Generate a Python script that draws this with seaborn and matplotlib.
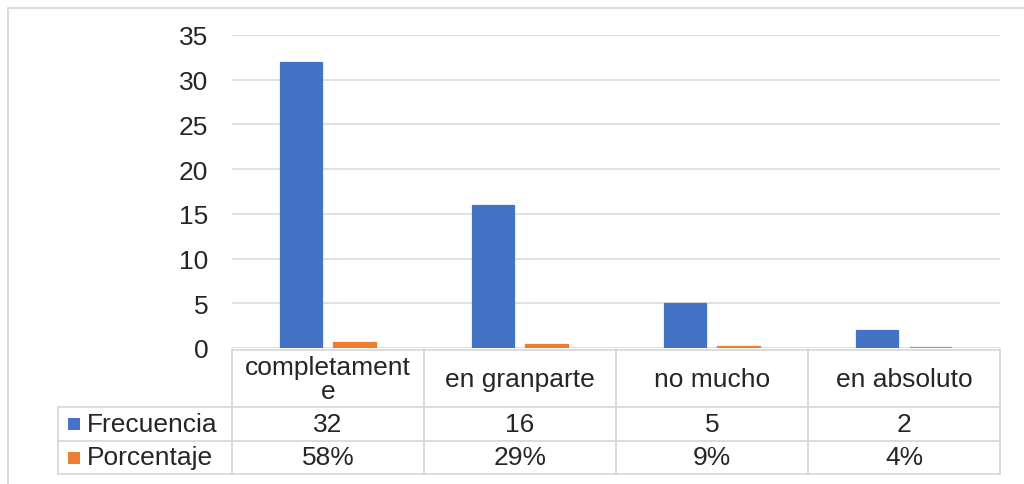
import matplotlib
matplotlib.use("Agg")
import matplotlib.pyplot as plt
import matplotlib.transforms as mtransforms
from matplotlib.lines import Line2D
from matplotlib.patches import Rectangle
import seaborn as sns
import pandas as pd

# Survey answers and their two series
categorias = ["completamente", "en granparte", "no mucho", "en absoluto"]
etiquetas_tabla = ["completament\ne", "en granparte", "no mucho", "en absoluto"]
frecuencia = [32, 16, 5, 2]
porcentaje = [0.58, 0.29, 0.09, 0.04]
series = ["Frecuencia", "Porcentaje"]
colores = ["#4472C4", "#ED7D31"]
yticks = [0, 5, 10, 15, 20, 25, 30, 35]

sns.set_theme(style="white")
plt.rcParams["font.family"] = ["Liberation Sans", "DejaVu Sans"]

TXT = "#262626"
GRID = "#d9d9d9"
FS = 19

df = pd.DataFrame({
    "categoria": categorias * 2,
    "serie": [series[0]] * len(categorias) + [series[1]] * len(categorias),
    "valor": frecuencia + porcentaje,
})

W, H = 1024, 485
fig = plt.figure(figsize=(W / 100, H / 100), dpi=100)
fig.patch.set_facecolor("white")


def fx(x):
    return x / W


def fy(y):
    return 1 - y / H


ax = fig.add_axes([fx(232), fy(349), 768 / W, 313 / H])
sns.barplot(data=df, x="categoria", y="valor", hue="serie", order=categorias,
            hue_order=series, palette=colores, width=0.5625, gap=0.22,
            saturation=1, legend=False, ax=ax, zorder=3)
# thin outline in the fill colour keeps the tiny percentage bars visible
for patch in ax.patches:
    patch.set_edgecolor(patch.get_facecolor())
    patch.set_linewidth(0.9)
for patch in ax.containers[1]:
    patch.set_linewidth(1.6)

ax.set_xlim(-0.5, len(categorias) - 0.5)
ax.set_ylim(0, 35)
ax.set_yticks(yticks)
ax.set_xticks([])
ax.set_xlabel("")
ax.set_ylabel("")
ax.yaxis.grid(True, color=GRID, lw=1.1, zorder=0)
ax.set_axisbelow(True)
for s in ax.spines.values():
    s.set_visible(False)
ax.tick_params(axis="y", length=0, pad=17, labelsize=FS, labelcolor=TXT)

# Data table beneath the plot
trans = mtransforms.blended_transform_factory(ax.transData, fig.transFigure)
n = len(categorias)
row_top, row1, row2, row_bot = 350, 408, 442, 475
left_col = 58
right_px = 1000

lines = []
lines.append(Line2D([-0.5, n - 0.5], [fy(row_top + 0.5)] * 2, transform=trans))
for y in (row1, row2, row_bot):
    lines.append(Line2D([fx(left_col), fx(right_px)], [fy(y)] * 2, transform=fig.transFigure))
for i in range(n + 1):
    lines.append(Line2D([i - 0.5] * 2, [fy(row_top), fy(row_bot)], transform=trans))
lines.append(Line2D([fx(left_col)] * 2, [fy(row1), fy(row_bot)], transform=fig.transFigure))
for ln in lines:
    ln.set_color(GRID)
    ln.set_linewidth(1.3)
    fig.add_artist(ln)

for i, lab in enumerate(etiquetas_tabla):
    fig.text(0, 0, lab, transform=trans, fontsize=FS, color=TXT, ha="center",
             va="center", linespacing=0.98).set_position((i, fy((row_top + row1) / 2 + 1)))
    fig.text(0, 0, str(frecuencia[i]), transform=trans, fontsize=FS, color=TXT,
             ha="center", va="center").set_position((i, fy((row1 + row2) / 2)))
    fig.text(0, 0, f"{round(porcentaje[i] * 100)}%", transform=trans, fontsize=FS,
             color=TXT, ha="center", va="center").set_position((i, fy((row2 + row_bot) / 2)))

for k, (name, col) in enumerate(zip(series, colores)):
    ytop, ybot = [(row1, row2), (row2, row_bot)][k]
    yc = (ytop + ybot) / 2
    fig.add_artist(Rectangle((fx(68), fy(yc + 6)), 12 / W, 12 / H,
                             transform=fig.transFigure, color=col, lw=0))
    fig.text(fx(87), fy(yc), name, fontsize=FS, color=TXT, ha="left", va="center")

# Chart area border
for xs, ys in (([fx(8), fx(8)], [fy(9), fy(H)]), ([fx(8), fx(W)], [fy(9), fy(9)])):
    fig.add_artist(Line2D(xs, ys, transform=fig.transFigure, color=GRID, lw=1.3))

fig.savefig("out.png", dpi=100, facecolor="white")
